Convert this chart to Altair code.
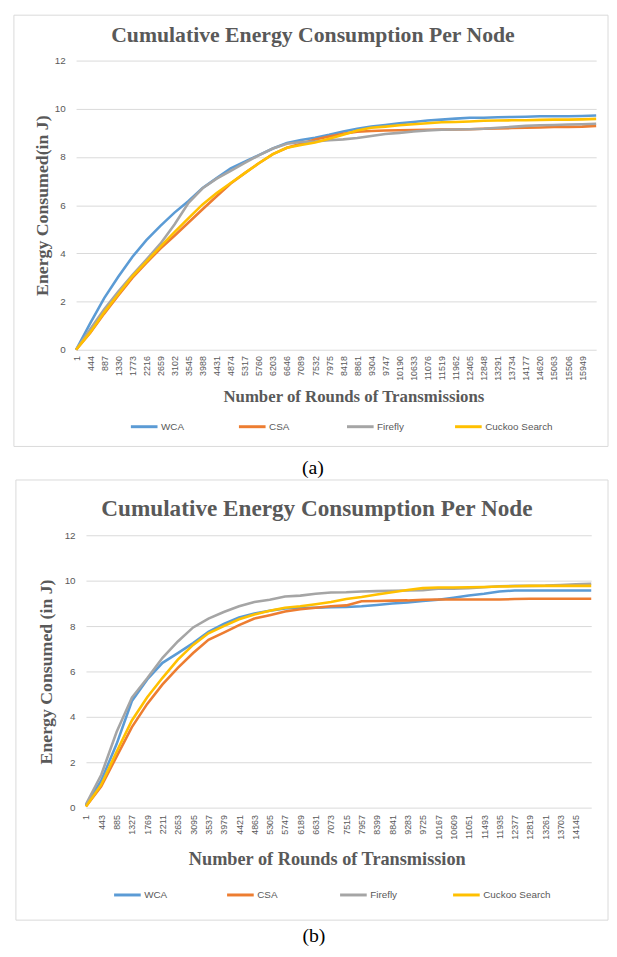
import altair as alt
import pandas as pd

SERIES = ["WCA", "CSA", "Firefly", "Cuckoo Search"]
COLORS = ["#5B9BD5", "#ED7D31", "#A5A5A5", "#FFC000"]

# ---------------- panel (a) ----------------
ticks_a = [1, 444, 887, 1330, 1773, 2216, 2659, 3102, 3545, 3988, 4431, 4874, 5317,
           5760, 6203, 6646, 7089, 7532, 7975, 8418, 8861, 9304, 9747, 10190, 10633,
           11076, 11519, 11962, 12405, 12848, 13291, 13734, 14177, 14620, 15063, 15506,
           15949]
rounds_a = ticks_a + [16392]
wca_a = [0, 1.09, 2.14, 3.03, 3.85, 4.55, 5.14, 5.69, 6.17, 6.71, 7.12, 7.53, 7.80,
         8.08, 8.35, 8.58, 8.70, 8.80, 8.92, 9.06, 9.17, 9.26, 9.33, 9.40, 9.45, 9.51,
         9.55, 9.59, 9.63, 9.63, 9.65, 9.66, 9.67, 9.69, 9.69, 9.69, 9.70, 9.72]
csa_a = [0, 0.70, 1.50, 2.25, 2.98, 3.60, 4.20, 4.73, 5.28, 5.83, 6.37, 6.90, 7.33,
         7.74, 8.12, 8.38, 8.55, 8.72, 8.85, 8.96, 9.05, 9.08, 9.10, 9.11, 9.12, 9.13,
         9.14, 9.14, 9.15, 9.17, 9.18, 9.20, 9.21, 9.22, 9.24, 9.25, 9.26, 9.29]
firefly_a = [0, 0.85, 1.68, 2.41, 3.10, 3.74, 4.40, 5.20, 6.10, 6.70, 7.10, 7.42, 7.75,
             8.07, 8.35, 8.55, 8.62, 8.64, 8.69, 8.73, 8.79, 8.87, 8.95, 9.00, 9.06,
             9.10, 9.13, 9.14, 9.15, 9.17, 9.21, 9.25, 9.29, 9.32, 9.33, 9.35, 9.36, 9.38]
cuckoo_a = [0, 0.72, 1.55, 2.30, 3.05, 3.66, 4.28, 4.88, 5.46, 6.03, 6.50, 6.92, 7.33,
            7.74, 8.12, 8.38, 8.50, 8.60, 8.76, 8.92, 9.10, 9.21, 9.26, 9.32, 9.36, 9.40,
            9.44, 9.45, 9.47, 9.50, 9.51, 9.52, 9.52, 9.54, 9.55, 9.55, 9.56, 9.58]

# ---------------- panel (b) ----------------
ticks_b = [1, 443, 885, 1327, 1769, 2211, 2653, 3095, 3537, 3979, 4421, 4863, 5305,
           5747, 6189, 6631, 7073, 7515, 7957, 8399, 8841, 9283, 9725, 10167, 10609,
           11051, 11493, 11935, 12377, 12819, 13261, 13703, 14145]
rounds_b = ticks_b + [14587]
wca_b = [0.10, 1.20, 2.80, 4.70, 5.65, 6.38, 6.81, 7.25, 7.75, 8.09, 8.38, 8.55, 8.67,
         8.77, 8.81, 8.81, 8.83, 8.84, 8.87, 8.93, 8.99, 9.04, 9.10, 9.16, 9.25, 9.35,
         9.42, 9.52, 9.57, 9.57, 9.57, 9.57, 9.57, 9.57]
csa_b = [0.05, 0.94, 2.25, 3.55, 4.57, 5.43, 6.16, 6.81, 7.39, 7.71, 8.04, 8.33, 8.48,
         8.64, 8.74, 8.81, 8.87, 8.91, 9.09, 9.10, 9.12, 9.13, 9.16, 9.17, 9.17, 9.17,
         9.17, 9.17, 9.19, 9.20, 9.20, 9.20, 9.20, 9.20]
firefly_b = [0.15, 1.45, 3.33, 4.85, 5.70, 6.60, 7.32, 7.94, 8.33, 8.62, 8.87, 9.06,
             9.16, 9.30, 9.34, 9.42, 9.48, 9.49, 9.52, 9.54, 9.55, 9.57, 9.58, 9.64,
             9.65, 9.67, 9.71, 9.75, 9.77, 9.77, 9.78, 9.81, 9.84, 9.86]
cuckoo_b = [0.05, 1.01, 2.46, 3.84, 4.86, 5.72, 6.52, 7.17, 7.68, 8.00, 8.30, 8.51,
            8.67, 8.81, 8.87, 8.96, 9.06, 9.19, 9.28, 9.39, 9.49, 9.59, 9.67, 9.70,
            9.70, 9.71, 9.72, 9.74, 9.75, 9.77, 9.77, 9.77, 9.77, 9.77]

y_ticks = [0, 2, 4, 6, 8, 10, 12]

GRAY = "#595959"
SERIF = "Liberation Serif"
SANS = "Liberation Sans"


def long_df(rounds, series_vals):
    rows = []
    for name, vals in zip(SERIES, series_vals):
        for r, v in zip(rounds, vals):
            rows.append({"series": name, "round": r, "energy": v})
    return pd.DataFrame(rows)


def panel(df, ticks, xmax, width, height, xrange, yoffset, title, title_fs, title_xy,
          xtitle, xtitle_fs, xtitle_x, xtitle_pad, xlabel_pad, ytitle, ytitle_pad,
          legend_xy, colpad, box, caption, caption_xy):
    x = alt.X(
        "round:Q",
        scale=alt.Scale(domain=[1, xmax], range=xrange, nice=False, zero=False),
        axis=alt.Axis(
            values=ticks, format="d", labelAngle=-90, labelFontSize=9,
            labelColor=GRAY, labelFont=SANS, labelPadding=xlabel_pad,
            labelOverlap=False, labelFlush=False, grid=False, domain=False,
            ticks=False, title=xtitle, titleFont=SERIF, titleFontWeight="bold",
            titleFontSize=xtitle_fs, titleColor=GRAY, titlePadding=xtitle_pad,
            titleX=xtitle_x,
        ),
    )
    y = alt.Y(
        "energy:Q",
        scale=alt.Scale(domain=[0, 12], nice=False),
        axis=alt.Axis(
            values=y_ticks, format="d", labelFontSize=10, labelColor=GRAY,
            labelFont=SANS, labelPadding=11, grid=True, gridColor="#d9d9d9",
            gridWidth=1, domain=False, ticks=False, offset=yoffset, title=ytitle,
            titleFont=SERIF, titleFontWeight="bold", titleFontSize=18,
            titleColor=GRAY, titlePadding=ytitle_pad,
        ),
    )
    color = alt.Color(
        "series:N",
        scale=alt.Scale(domain=SERIES, range=COLORS),
        legend=alt.Legend(
            title=None, orient="none", legendX=legend_xy[0], legendY=legend_xy[1],
            direction="horizontal", columns=4, symbolType="stroke", symbolSize=729,
            symbolStrokeWidth=3, labelFontSize=10, labelColor=GRAY, labelFont=SANS,
            labelOffset=2, columnPadding=colpad, gridAlign="all",
        ),
    )
    lines = alt.Chart(df).mark_line(strokeWidth=2.6).encode(x=x, y=y, color=color)

    rect = alt.Chart(pd.DataFrame({"k": [0]})).mark_rect(
        fillOpacity=0, stroke="#d9d9d9", strokeWidth=1
    ).encode(
        x=alt.value(box[0]), x2=alt.value(box[1]), y=alt.value(box[2]), y2=alt.value(box[3])
    )
    ttl = alt.Chart(pd.DataFrame({"t": [title]})).mark_text(
        font=SERIF, fontWeight="bold", fontSize=title_fs, color=GRAY,
        align="center", baseline="middle",
    ).encode(text="t:N", x=alt.value(title_xy[0]), y=alt.value(title_xy[1]))
    cap = alt.Chart(pd.DataFrame({"t": [caption]})).mark_text(
        font=SERIF, fontSize=20, color="#000000", align="center", baseline="middle",
    ).encode(text="t:N", x=alt.value(caption_xy[0]), y=alt.value(caption_xy[1]))

    return alt.layer(rect, lines, ttl, cap).properties(width=width, height=height)


df_a = long_df(rounds_a, [wca_a, csa_a, firefly_a, cuckoo_a])
df_b = long_df(rounds_b, [wca_b, csa_b, firefly_b, cuckoo_b])

pa = panel(
    df_a, ticks_a, rounds_a[-1], 527, 293, [0, 527], 0,
    "Cumulative Energy Consumption  Per Node", 22, (240, -25.5),
    "Number of Rounds of Transmissions", 17, 281, 8, 6,
    "Energy Consumed(in J)", 3, (54, 356), 3.5,
    (-63, 539, -46, 391), "(a)", (240, 413),
)
pb = panel(
    df_b, ticks_b, rounds_b[-1], 522, 276, [10, 522], -10,
    "Cumulative Energy Consumption Per Node", 23.5, (244, -27),
    "Number of Rounds of Transmission", 18.5, 254, 11, 7,
    "Energy Consumed (in J)", 9, (37, 349.5), 8.5,
    (-61, 539, -56, 390), "(b)", (241, 406),
)

chart = (
    alt.vconcat(pa, pb, spacing=1)
    .resolve_legend(color="independent")
    .resolve_scale(color="independent")
    .properties(padding={"left": 5, "top": 0, "right": 0, "bottom": 0}, background="white")
    .configure_view(stroke=None)
)

chart.save("out.html", embed_options={"renderer": "svg", "actions": False})
